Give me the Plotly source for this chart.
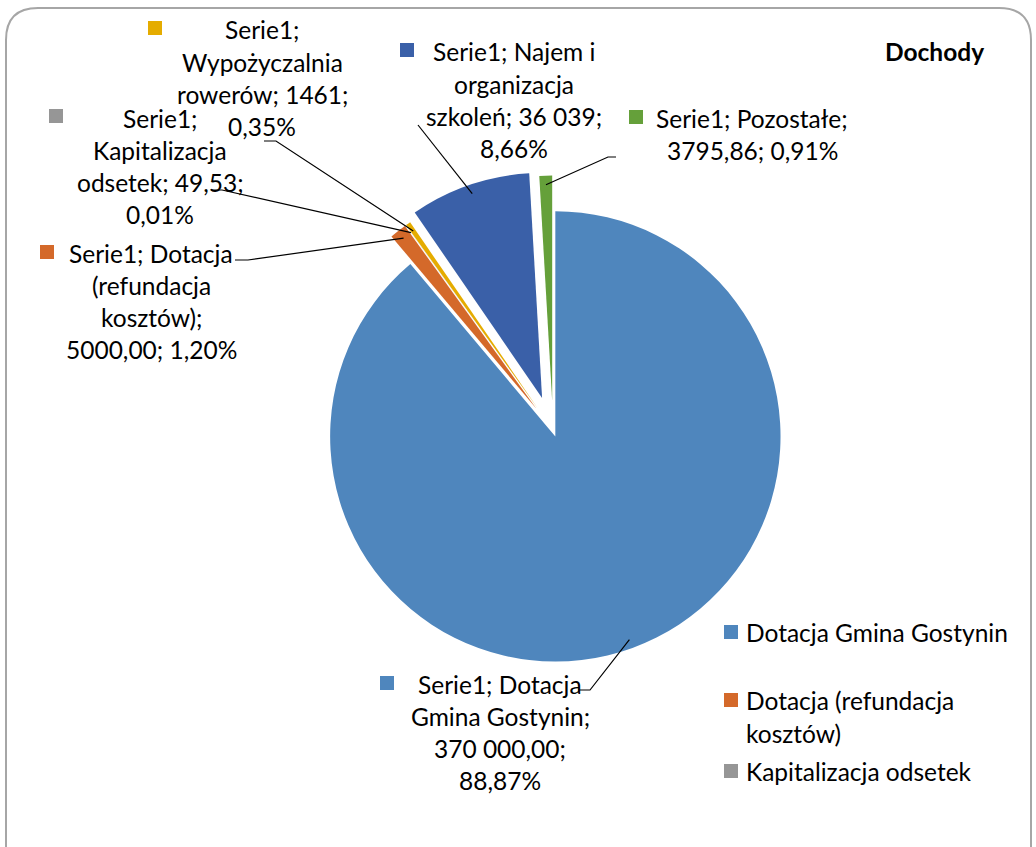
import math
import plotly.graph_objects as go

W, H = 1036, 847

# ---------------- data ----------------
series_name = "Serie1"
labels = [
    "Dotacja Gmina Gostynin",
    "Dotacja (refundacja kosztów)",
    "Kapitalizacja odsetek",
    "Wypożyczalnia rowerów",
    "Najem i organizacja szkoleń",
    "Pozostałe",
]
values = [370000.00, 5000.00, 49.53, 1461.0, 36039.0, 3795.86]
value_labels = ["370 000,00", "5000,00", "49,53", "1461", "36 039", "3795,86"]
legend_labels = ["Dotacja Gmina Gostynin", "Dotacja (refundacja<br>kosztów)", "Kapitalizacja odsetek"]
title_text = "Dochody"

# ---------------- style ----------------
colors = ["#4F86BD", "#D4692A", "#969696", "#E5AC00", "#3A60A8", "#65A03A"]
pulls = [0.03, 0.12, 0.12, 0.12, 0.15, 0.13]
FONT = "Lato"
FS = 24.5
LINE = 32.3

total = sum(values)
pct = [f"{v / total * 100:.2f}".replace(".", ",") + "%" for v in values]


def px(x):
    return x / W


def py(y):
    return 1 - y / H


dom_x = [0.2838, 0.7838]
dom_y = [0.1865, 0.798]

fig = go.Figure()
fig.add_trace(go.Pie(
    labels=labels, values=values, sort=False, direction="clockwise", rotation=0,
    pull=pulls, marker=dict(colors=colors, line=dict(color="rgba(0,0,0,0)", width=0)),
    textinfo="none", hoverinfo="label+value+percent", domain=dict(x=dom_x, y=dom_y),
    showlegend=False,
))

# pie geometry (pixels) to anchor leader lines on slices
cx = (dom_x[0] + dom_x[1]) / 2 * W
cy = (1 - (dom_y[0] + dom_y[1]) / 2) * H
box = min((dom_x[1] - dom_x[0]) * W, (dom_y[1] - dom_y[0]) * H)
r = box / (2 + 2 * max(pulls))


def slice_point(i, k=0.96):
    before = sum(values[:i])
    theta = math.radians(360 * (before + values[i] / 2) / total)
    d = r * pulls[i] + r * k
    return cx + d * math.sin(theta), cy - d * math.cos(theta)


def label_lines(i):
    v, p = value_labels[i], pct[i]
    if i == 0:
        return [f"{series_name}; Dotacja", "Gmina Gostynin;", f"{v};", p]
    if i == 1:
        return [f"{series_name}; Dotacja", "(refundacja", "kosztów);", f"{v}; {p}"]
    if i == 2:
        return [f"{series_name};", "Kapitalizacja", f"odsetek; {v};", p]
    if i == 3:
        return [f"{series_name};", "Wypożyczalnia", f"rowerów; {v};", p]
    if i == 4:
        return [f"{series_name}; Najem i", "organizacja", f"szkoleń; {v};", p]
    return [f"{series_name}; Pozostałe;", f"{v}; {p}"]


label_layout = {
    0: dict(cx=500, y0=684, sw=(387, 683), elbow=[(590, 690), (578, 690)]),
    1: dict(cx=151, y0=253, sw=(47, 252), elbow=[(248, 260), (235, 260)]),
    2: dict(cx=160, y0=118, sw=(56, 116), elbow=[(222, 190), (211, 190)]),
    3: dict(cx=262, y0=30, sw=(155, 28), elbow=[(276, 141), (264, 141)]),
    4: dict(cx=514, y0=52, sw=(407, 50), elbow=[(418, 125)]),
    5: dict(cx=752, y0=118, sw=(636, 117), elbow=[(608, 157), (616, 157)]),
}

annotations = []
shapes = []
SW = 14

for i, spec in label_layout.items():
    for j, line in enumerate(label_lines(i)):
        annotations.append(dict(
            x=px(spec["cx"]), y=py(spec["y0"] + j * LINE), xref="paper", yref="paper",
            text=line, showarrow=False, xanchor="center", yanchor="middle",
            font=dict(family=FONT, size=FS, color="#000000"),
        ))
    sx, sy = spec["sw"]
    shapes.append(dict(type="rect", xref="paper", yref="paper",
                       x0=px(sx - SW / 2), x1=px(sx + SW / 2), y0=py(sy + SW / 2), y1=py(sy - SW / 2),
                       fillcolor=colors[i], line=dict(width=0)))
    pts = [slice_point(i)] + spec["elbow"]
    path = "M " + " L ".join(f"{px(x):.5f},{py(y):.5f}" for x, y in pts)
    shapes.append(dict(type="path", xref="paper", yref="paper", path=path,
                       line=dict(color="#000000", width=1.2)))

# title
annotations.append(dict(x=px(986), y=py(52), xref="paper", yref="paper", text=f"<b>{title_text}</b>",
                        showarrow=False, xanchor="right", yanchor="middle",
                        font=dict(family=FONT, size=FS, color="#000000")))

# legend (only the visible entries)
legend_pos = [(731, 632), (731, 700), (731, 771)]
for k, (lx, ly) in enumerate(legend_pos):
    shapes.append(dict(type="rect", xref="paper", yref="paper",
                       x0=px(lx - SW / 2), x1=px(lx + SW / 2), y0=py(ly + SW / 2), y1=py(ly - SW / 2),
                       fillcolor=colors[k], line=dict(width=0)))
    parts = legend_labels[k].split("<br>")
    for j, part in enumerate(parts):
        annotations.append(dict(x=px(744), y=py(ly + j * 33), xref="paper", yref="paper", text=part,
                                showarrow=False, xanchor="left", yanchor="middle",
                                font=dict(family=FONT, size=FS, color="#000000")))

# rounded frame
L, T, R, B, rad = 6, 8, 1031, 900, 32
frame = (f"M {px(L)},{py(B)} L {px(L)},{py(T + rad)} "
         f"Q {px(L)},{py(T)} {px(L + rad)},{py(T)} "
         f"L {px(R - rad)},{py(T)} Q {px(R)},{py(T)} {px(R)},{py(T + rad)} L {px(R)},{py(B)}")
shapes.insert(0, dict(type="path", xref="paper", yref="paper", path=frame,
                      line=dict(color="#A6A6A6", width=2)))

fig.update_layout(
    width=W, height=H, margin=dict(l=0, r=0, t=0, b=0),
    paper_bgcolor="white", plot_bgcolor="white",
    showlegend=False, annotations=annotations, shapes=shapes,
    font=dict(family=FONT, size=FS),
)

fig.write_html(
    "out.html",
    config={"displayModeBar": False},
    post_script="document.body.style.margin='0';document.body.style.overflow='hidden';",
)
